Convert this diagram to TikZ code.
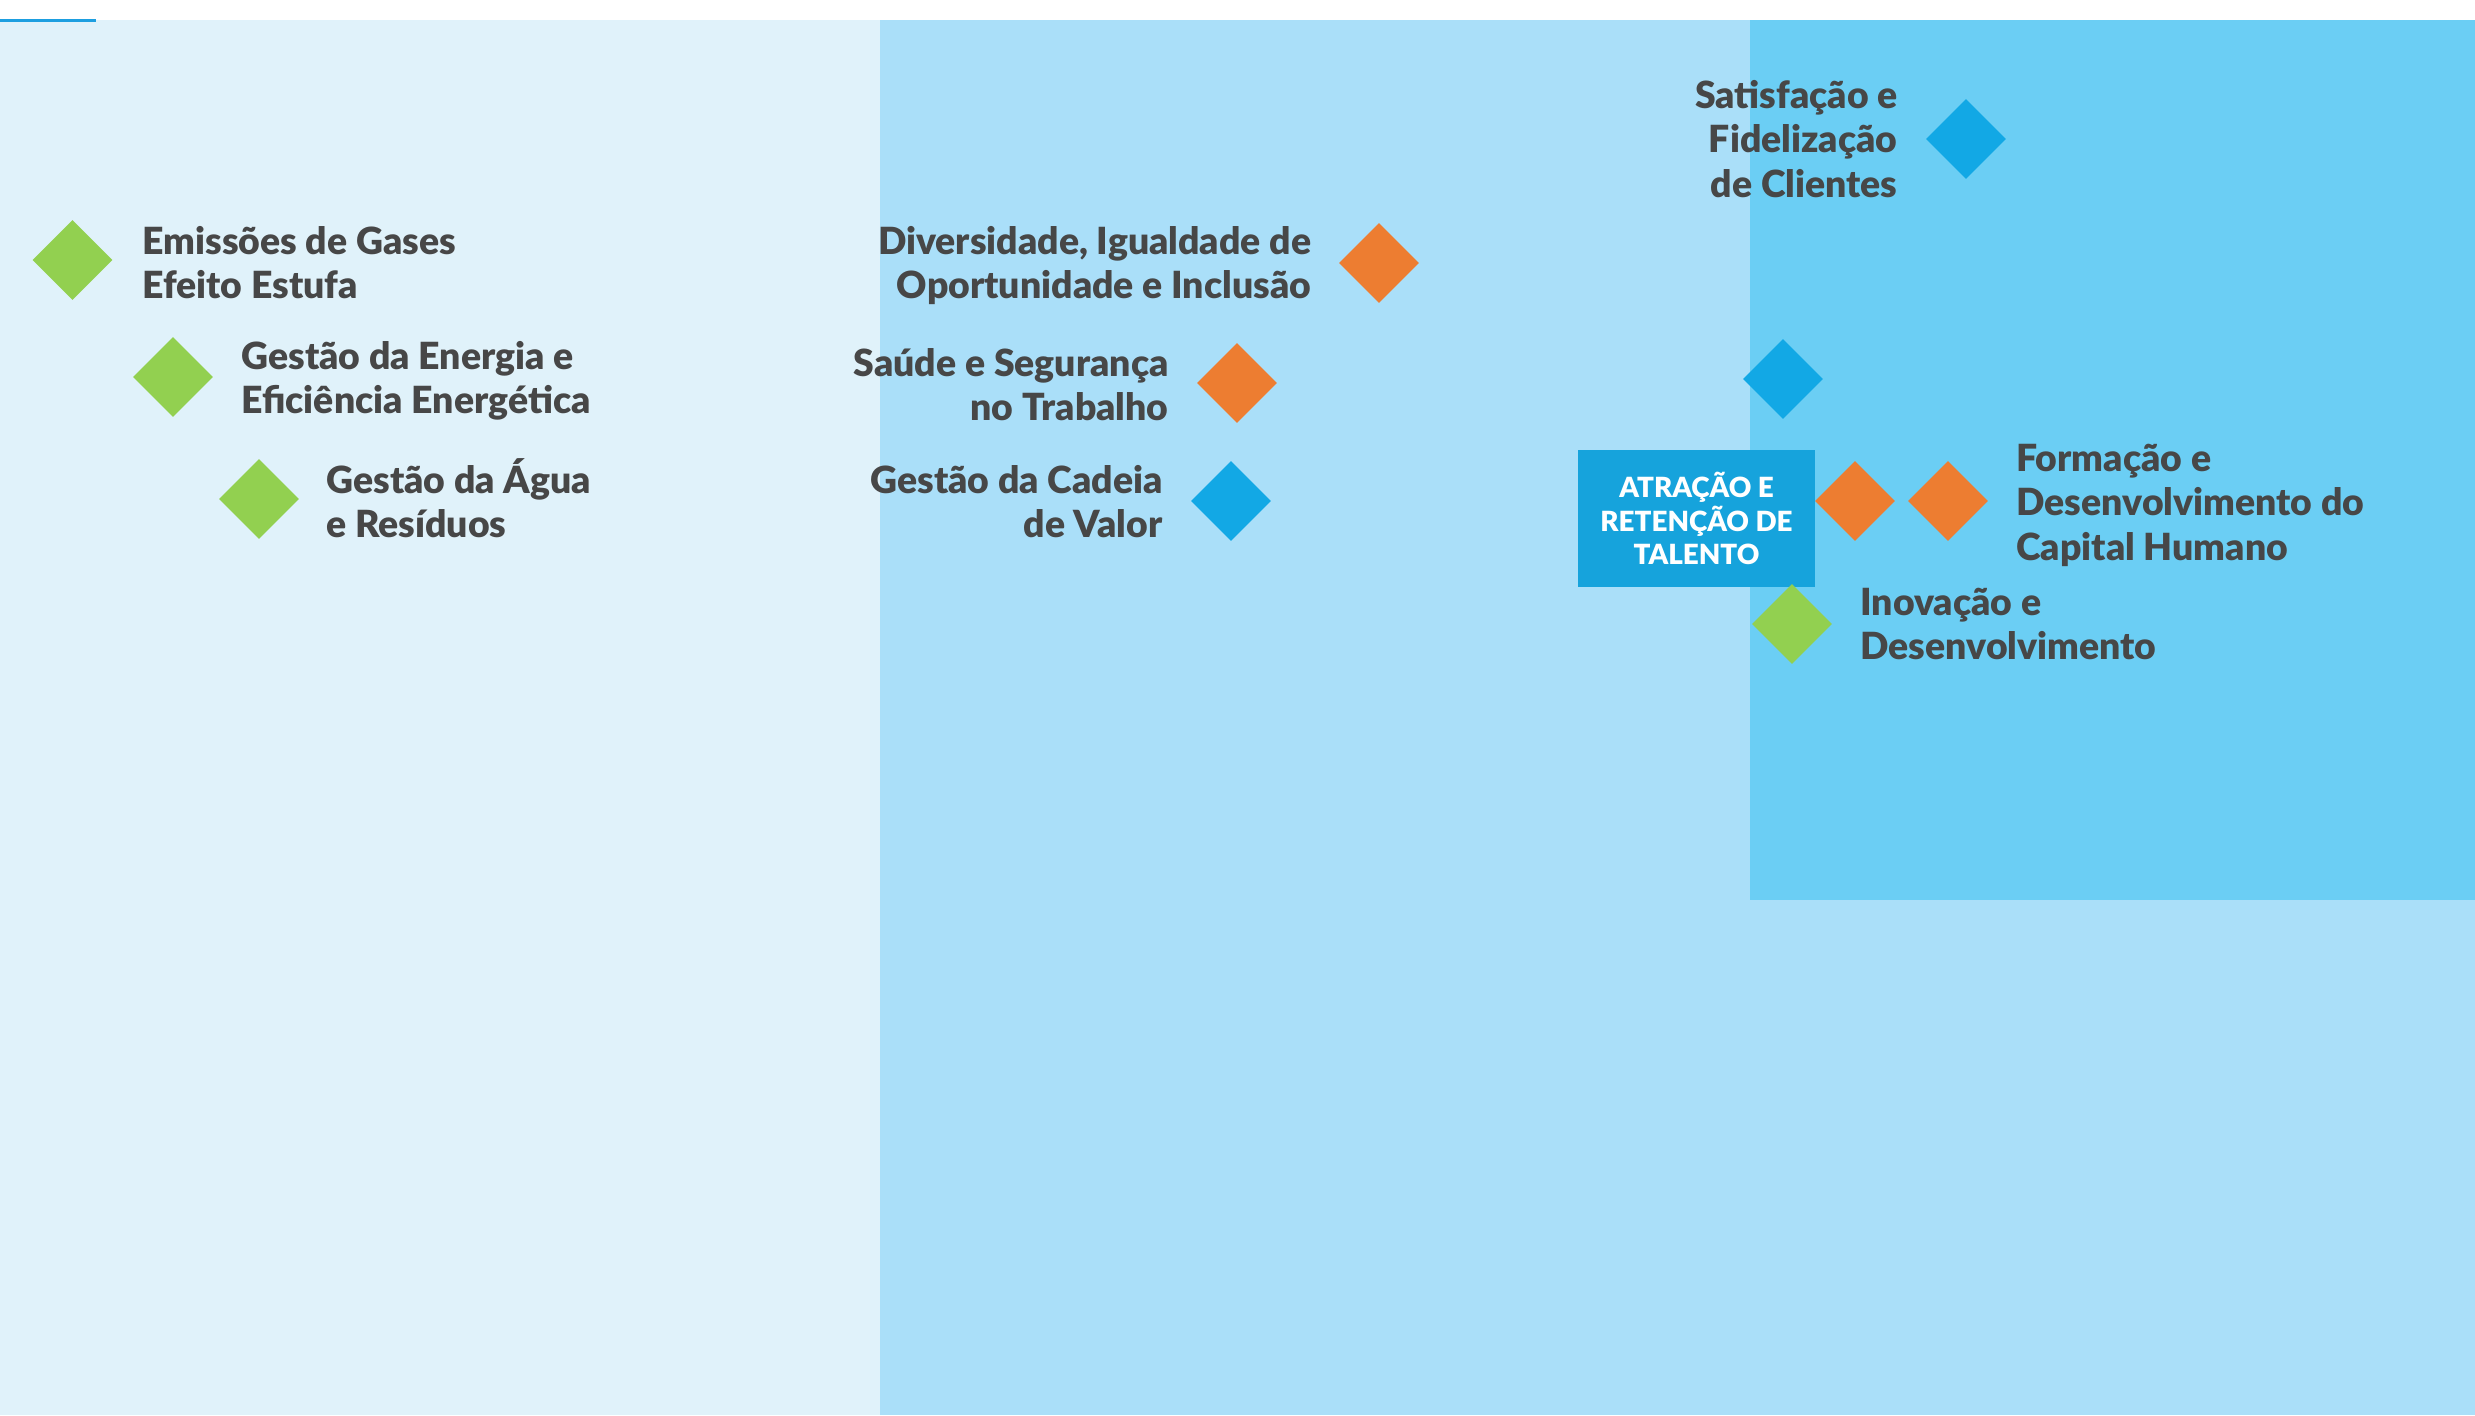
\documentclass[tikz,border=0pt]{standalone}
\usepackage{fontspec}
\setmainfont{Lato}
\IfFontExistsTF{Lato Black}{\newfontfamily\lblfont{Lato Black}}{\newcommand\lblfont{\bfseries}}
\newcommand\lblstrut{\rule{0pt}{18pt}}
\usetikzlibrary{shapes.geometric}
\definecolor{leftbg}{HTML}{E0F2FA}
\definecolor{midbg}{HTML}{AADFF9}
\definecolor{rightbg}{HTML}{6BCEF4}
\definecolor{dgreen}{HTML}{92D050}
\definecolor{dorange}{HTML}{ED7D31}
\definecolor{dblue}{HTML}{12A8E5}
\definecolor{boxblue}{HTML}{16A3DC}
\definecolor{txtgrey}{HTML}{474747}
\definecolor{topline}{HTML}{1D9FE0}
\begin{document}
\begin{tikzpicture}[x=0.5pt,y=-0.5pt,
  diam/.style={diamond,aspect=1,inner sep=0pt,minimum width=40pt,minimum height=40pt,draw=none},
  gdiam/.style={diam,fill=dgreen},
  odiam/.style={diam,fill=dorange},
  bdiam/.style={diam,fill=dblue},
  lbl/.style={inner sep=0pt,text=txtgrey,font=\fontsize{18.7pt}{22.25pt}\selectfont\lblfont},
  lblL/.style={lbl,align=left,anchor=north west},
  lblR/.style={lbl,align=right,anchor=north east},
  talentbox/.style={fill=boxblue,text=white,inner sep=0pt,minimum width=118.5pt,minimum height=68.5pt,align=center,font=\fontsize{13.9pt}{16.75pt}\selectfont\lblfont}
]
\useasboundingbox (0,0) rectangle (2475,1415);
% backgrounds
\fill[white] (0,0) rectangle (2475,20);
\fill[leftbg] (0,20) rectangle (880,1415);
\fill[midbg] (880,20) rectangle (2475,1415);
\fill[rightbg] (1750,20) rectangle (2475,900);
\fill[topline] (0,19) rectangle (96,22);

% left column
\node[gdiam] (g1) at (72.5,260) {};
\node[lblL] (t1) at (142,218) {\lblstrut Emissões de Gases\\Efeito Estufa};
\node[gdiam] (g2) at (173,377) {};
\node[lblL] (t2) at (241,333) {\lblstrut Gestão da Energia e\\Eficiência Energética};
\node[gdiam] (g3) at (259,499) {};
\node[lblL] (t3) at (326,457) {\lblstrut Gestão da Água\\e Resíduos};

% middle column
\node[odiam] (o1) at (1379,263) {};
\node[lblR] (t4) at (1311.5,218) {\lblstrut Diversidade, Igualdade de\\Oportunidade e Inclusão};
\node[odiam] (o2) at (1237,383) {};
\node[lblR] (t5) at (1169,340) {\lblstrut Saúde e Segurança\\no Trabalho};
\node[bdiam] (b1) at (1231,501) {};
\node[lblR] (t6) at (1163,457) {\lblstrut Gestão da Cadeia\\de Valor};

% right area
\node[bdiam] (b2) at (1966,139) {};
\node[lblR] (t7) at (1898,72) {\lblstrut Satisfação e\\Fidelização\\de Clientes};
\node[bdiam] (b3) at (1783,379) {};
\node[talentbox] (box) at (1696.5,518.5) {ATRAÇÃO E\\RETENÇÃO DE\\TALENTO};
\node[odiam] (o3) at (1855,501) {};
\node[odiam] (o4) at (1948,501) {};
\node[lblL] (t8) at (2016,435) {\lblstrut Formação e\\Desenvolvimento do\\Capital Humano};
\node[gdiam] (g4) at (1792,624) {};
\node[lblL] (t9) at (1860,579) {\lblstrut Inovação e\\Desenvolvimento};
\end{tikzpicture}
\end{document}
